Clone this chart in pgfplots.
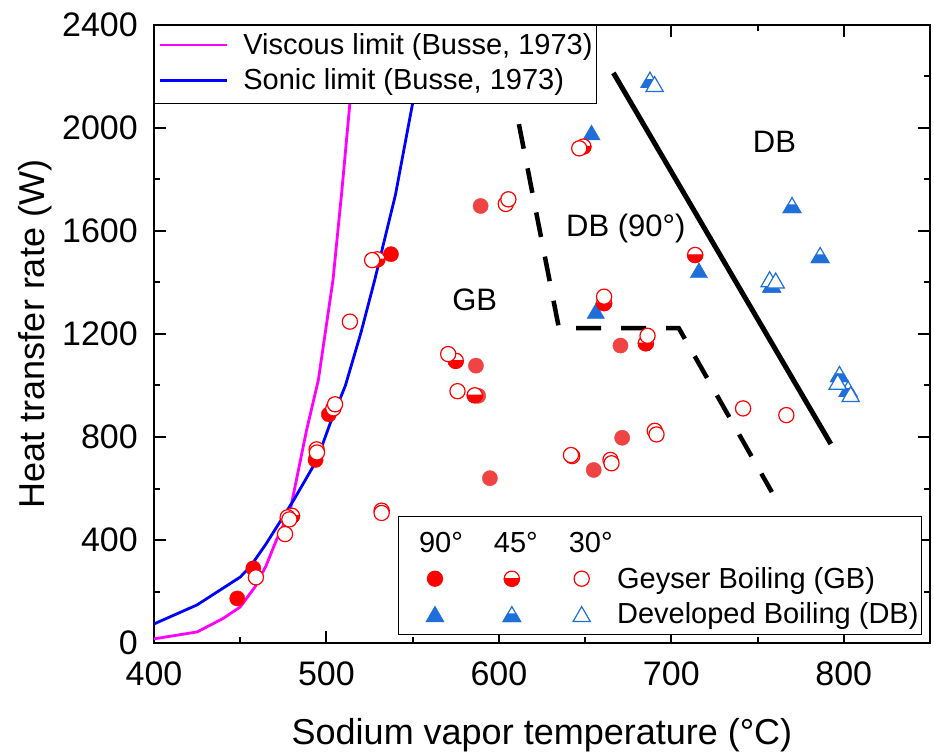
\documentclass[border=0pt]{standalone}
\usepackage{fontspec}
\setmainfont{Liberation Sans}
\usepackage{pgfplots}
\pgfplotsset{compat=1.18}

\definecolor{mred}{RGB}{255,0,0}
\definecolor{lred}{RGB}{240,68,68}
\definecolor{tblue}{RGB}{31,111,219}
\definecolor{vmag}{RGB}{255,0,255}
\definecolor{sblue}{RGB}{0,0,255}

\newcommand\tickfont{\fontsize{34}{40}\selectfont}
\newcommand\labfont{\fontsize{36}{42}\selectfont}
\newcommand\legfont{\fontsize{29}{34}\selectfont}
\newcommand\txtfont{\fontsize{31}{36}\selectfont}

% circle, lower half filled
\pgfdeclareplotmark{halfcR}{%
  \pgfscope
  \pgfpathcircle{\pgfpointorigin}{\pgfplotmarksize}%
  \pgfsetfillcolor{white}\pgfusepath{fill,stroke}%
  \pgfpathmoveto{\pgfqpoint{-\pgfplotmarksize}{0pt}}%
  \pgfpatharc{180}{360}{\pgfplotmarksize}%
  \pgfpathclose
  \pgfsetfillcolor{mred}\pgfusepath{fill,stroke}%
  \endpgfscope
}
% triangle, lower half filled
\pgfdeclareplotmark{halftB}{%
  \pgfscope
  \pgfpathmoveto{\pgfpointpolar{90}{\pgfplotmarksize}}%
  \pgfpathlineto{\pgfpointpolar{210}{\pgfplotmarksize}}%
  \pgfpathlineto{\pgfpointpolar{-30}{\pgfplotmarksize}}%
  \pgfpathclose
  \pgfsetfillcolor{white}\pgfusepath{fill,stroke}%
  \pgfpathmoveto{\pgfpointpolar{210}{\pgfplotmarksize}}%
  \pgfpathlineto{\pgfpointpolar{-30}{\pgfplotmarksize}}%
  \pgfpathlineto{\pgfqpoint{0.433\pgfplotmarksize}{0.25\pgfplotmarksize}}%
  \pgfpathlineto{\pgfqpoint{-0.433\pgfplotmarksize}{0.25\pgfplotmarksize}}%
  \pgfpathclose
  \pgfsetfillcolor{tblue}\pgfusepath{fill,stroke}%
  \endpgfscope
}

\pgfplotsset{
  base/.style={
    scale only axis, width=776pt, height=618pt,
    xmin=400, xmax=850, ymin=0, ymax=2400,
  },
  circleg/.style={legend image code/.code={\draw[##1] plot coordinates {(0pt,9.5pt)};}},
  trileg/.style={legend image code/.code={\draw[##1] plot coordinates {(0pt,7pt)};}},
  headleg/.style 2 args={legend image code/.code={\node[anchor=base, inner sep=0pt] at (#1,0pt) {#2};}},
  firstleg/.style={legend image code/.code={\path (-33pt,-6.1pt) (0pt,30pt);
    \node[anchor=base, inner sep=0pt] at (6pt,0pt) {90°};}},
}

\begin{document}
\begin{tikzpicture}
\begin{axis}[
    base, name=main,
    axis line style={line width=2pt},
    xtick={400,500,...,800}, minor x tick num=1,
    ytick={0,400,...,2400}, minor y tick num=1,
    tick align=inside,
    major tick length=12pt, minor tick length=6pt,
    every tick/.style={black, line width=2pt},
    /pgf/number format/assume math mode=true,
    /pgf/number format/set thousands separator={},
    xticklabel style={font=\tickfont, inner sep=0pt, yshift=-19pt},
    yticklabel style={font=\tickfont, inner sep=0pt, xshift=-16pt},
    xlabel={Sodium vapor temperature (°C)},
    ylabel={Heat transfer rate (W)},
    xlabel style={font=\labfont, at={(axis description cs:0.5,-0.165)}, anchor=base},
    ylabel style={font=\labfont, at={(axis description cs:-0.1405,0.5)}, anchor=base},
    legend cell align=left,
    legend image code/.code={\draw[#1, line width=2.8pt] (0pt,9.3pt) -- (67pt,9.3pt);},
    legend style={at={(0,1)}, anchor=north west, draw=black, line width=1pt,
      fill=white, font=\legfont, inner xsep=4pt, inner ysep=7.7pt, row sep=8.5pt,
      nodes={inner sep=0pt, text height=21.1pt, text depth=6.1pt, anchor=base west},
      /tikz/every odd column/.style={column sep=15pt}},
  ]
% Viscous limit
\addplot[vmag, line width=2.8pt] coordinates {
  (400,16) (425,43) (440,95) (450,140) (458.5,217) (465,300) (471,400)
  (479,516) (488.5,827) (495.3,1021) (503.8,1410) (509,1760) (513.6,2097) (517,2400)};
\addlegendentry{Viscous limit (Busse, 1973)}
% Sonic limit
\addplot[sblue, line width=2.8pt] coordinates {
  (400,74) (425,148) (450,256) (456,298) (465,385) (473,470) (481,555)
  (494.5,711) (502,850) (511,1000) (520,1205) (528,1410) (540,1740) (550,2097) (559,2400)};
\addlegendentry{Sonic limit (Busse, 1973)}
% boundaries
\addplot[black, line width=5pt] coordinates {(666.4,2214) (792.5,773)};
\addplot[black, line width=4.5pt, dash pattern=on 25pt off 20pt] coordinates {
  (611.6,2015) (634.8,1223) (704.3,1223) (758.3,586)};
% DB, 90 deg
\addplot[only marks, mark=triangle*, mark size=10pt, draw=tblue, fill=tblue] coordinates {
  (653.7,1973) (716,1438) (656.2,1280)};
% DB, 45 deg
\addplot[only marks, mark=halftB, mark size=10pt, draw=tblue, line width=1.2pt] coordinates {
  (687.6,2178) (770,1691) (786.3,1497) (758.2,1382) (797.5,1035) (802.5,978)};
% DB, 30 deg
\addplot[only marks, mark=triangle*, mark size=10pt, draw=tblue, fill=white, line width=1.2pt] coordinates {
  (690.3,2161) (757,1403) (760.5,1398) (796.5,1005) (804,957)};
% GB, 90 deg
\addplot[only marks, mark=*, mark size=7.6pt, draw=lred, fill=lred] coordinates {
  (589.4,1697) (586.7,1077) (588,960) (594.8,640) (670.5,1155) (671.5,797) (655,672)};
\addplot[only marks, mark=*, mark size=7.6pt, draw=mred, fill=mred] coordinates {
  (448.3,173) (457.6,290) (493.7,711) (501.4,888) (537.4,1510)};
% GB, 45 deg
\addplot[only marks, mark=halfcR, mark size=7.6pt, draw=mred, line width=1.2pt] coordinates {
  (575,1096) (586,962) (649,1928) (713.8,1507) (685.2,1164) (661,1320) (480,494) (529.5,1490)};
% GB, 30 deg
\addplot[only marks, mark=*, mark size=7.6pt, draw=mred, fill=white, line width=1.2pt] coordinates {
  (459.1,255) (476,423) (477.5,488) (478.5,480) (494.3,752) (494.5,740) (504,911) (505,927)
  (513.6,1248) (526.5,1487) (532,514) (532,505) (570.6,1122) (576,978) (604,1705) (605.5,1723)
  (646.6,1921) (661,1345) (686.2,1193) (741.6,911) (766.7,885) (690.4,824) (691.4,810)
  (642.5,726) (641.8,730) (664.7,711) (665.3,698)};
\node[font=\txtfont] at (axis cs:586,1332) {GB};
\node[font=\txtfont] at (axis cs:673.6,1610) {DB (90°)};
\node[font=\txtfont] at (axis cs:759.8,1945) {DB};
\end{axis}

\begin{axis}[
    base, hide axis,
    legend columns=3,
    legend cell align=left,
    legend style={at={(0.3144,0.2055)}, anchor=north west, draw=black, line width=1pt,
      fill=white, font=\legfont, inner xsep=3pt, inner ysep=5.3pt, row sep=8.2pt,
      nodes={inner sep=0pt, text height=21.1pt, text depth=6.1pt, anchor=base west},
      /tikz/every odd column/.style={column sep=4.5pt},
      /tikz/every even column/.style={column sep=25.5pt}},
  ]
\addlegendimage{firstleg}
\addlegendentry{}
\addlegendimage{headleg={4pt}{45°}}
\addlegendentry{}
\addlegendimage{headleg={9pt}{30°}}
\addlegendentry{}
\addlegendimage{only marks, mark=*, mark size=7.6pt, draw=mred, fill=mred, circleg}
\addlegendentry{}
\addlegendimage{only marks, mark=halfcR, mark size=7.6pt, draw=mred, line width=1.2pt, circleg}
\addlegendentry{}
\addlegendimage{only marks, mark=*, mark size=7.6pt, draw=mred, fill=white, line width=1.2pt, circleg}
\addlegendentry{Geyser Boiling (GB)}
\addlegendimage{only marks, mark=triangle*, mark size=10pt, draw=tblue, fill=tblue, trileg}
\addlegendentry{}
\addlegendimage{only marks, mark=halftB, mark size=10pt, draw=tblue, line width=1.2pt, trileg}
\addlegendentry{}
\addlegendimage{only marks, mark=triangle*, mark size=10pt, draw=tblue, fill=white, line width=1.2pt, trileg}
\addlegendentry{Developed Boiling (DB)}
\end{axis}
\pgfresetboundingbox
\path ([shift={(-154pt,-112pt)}]main.south west) rectangle ([shift={(4pt,25pt)}]main.north east);
\end{tikzpicture}
\end{document}
